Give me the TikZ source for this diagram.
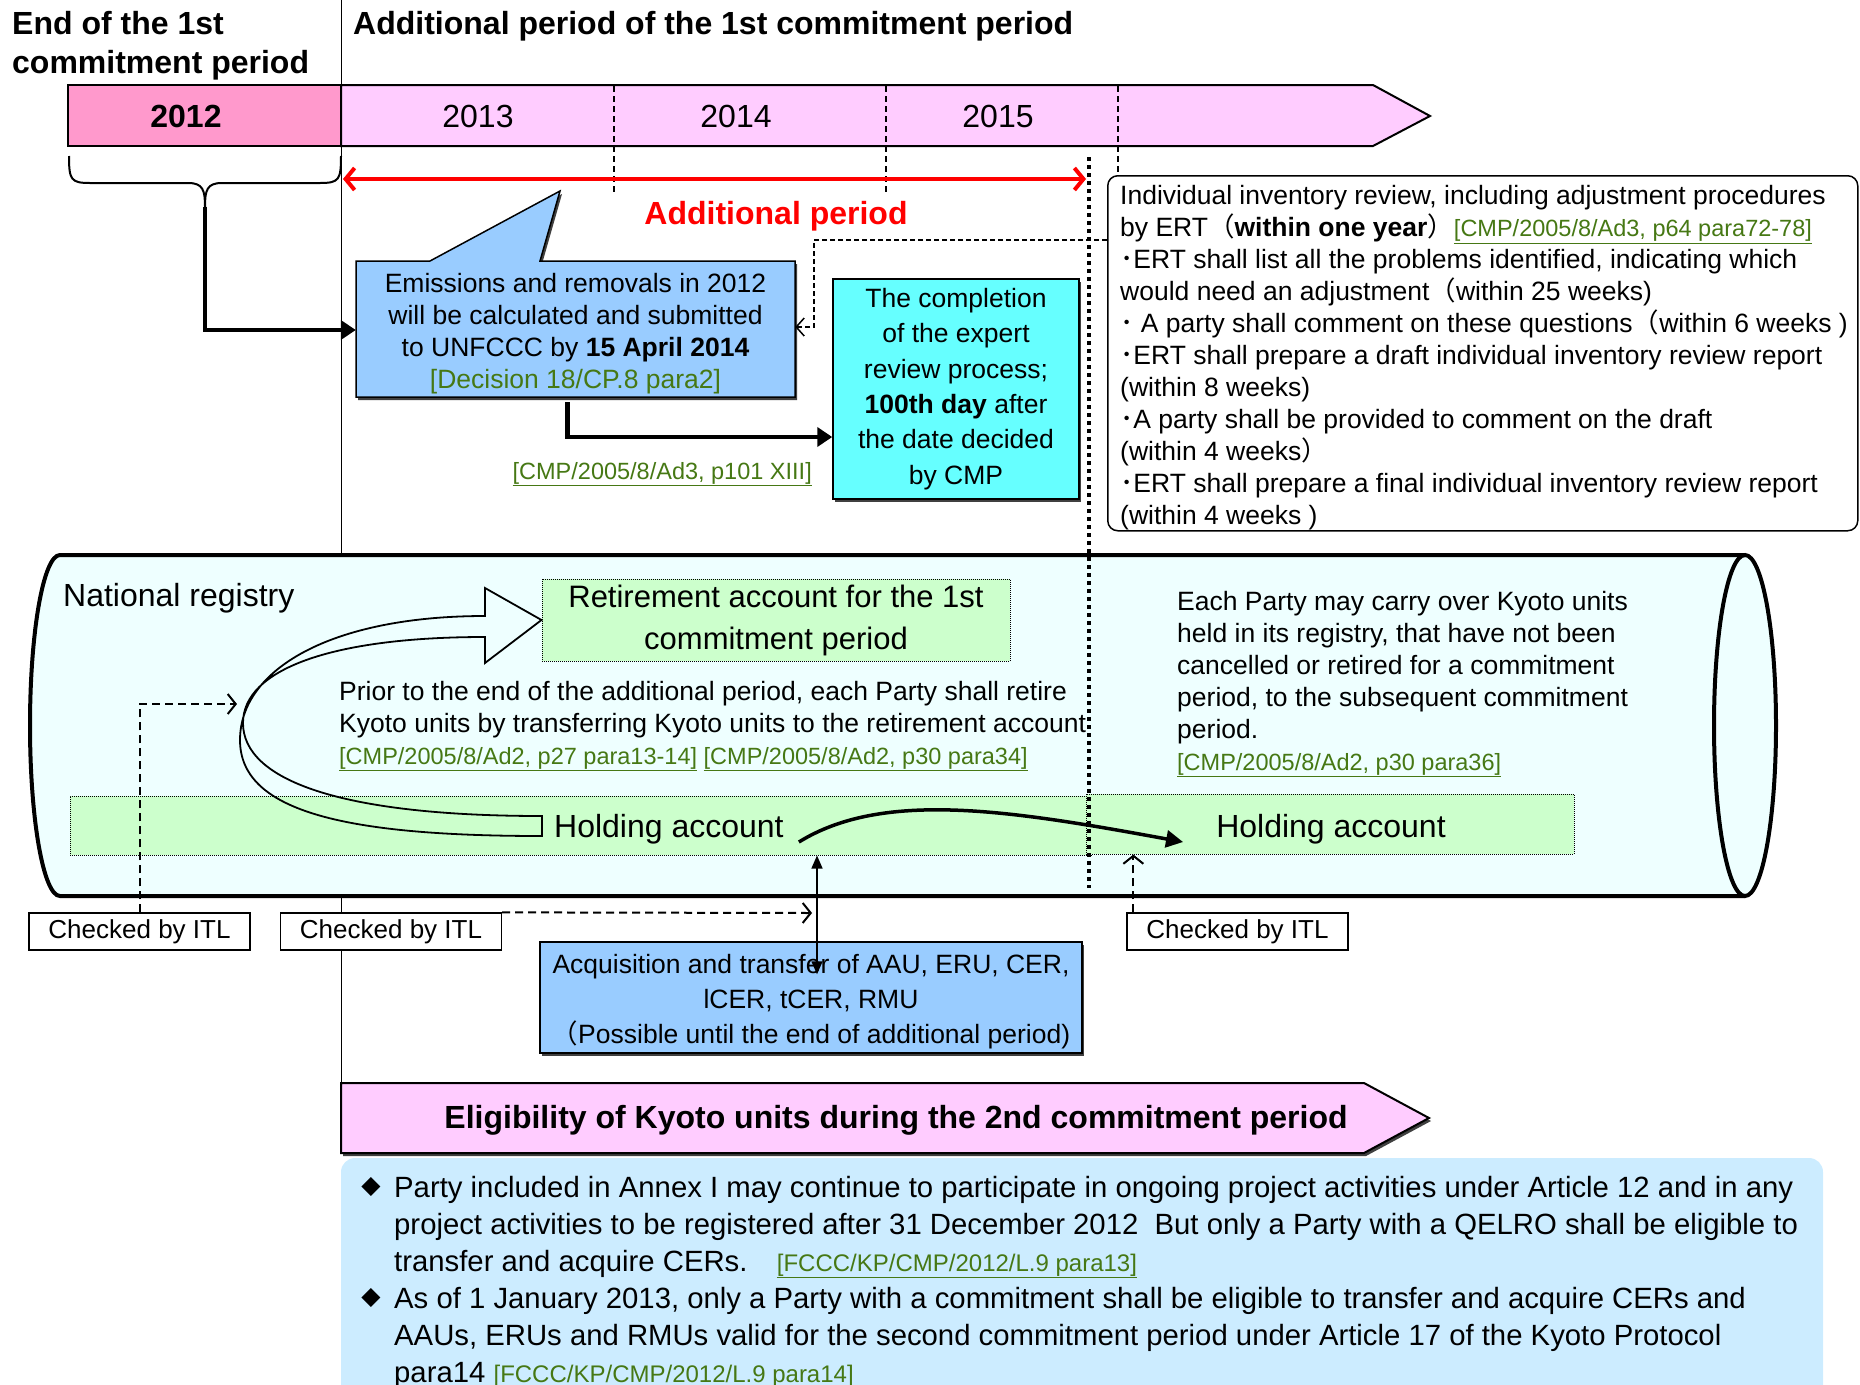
\documentclass[tikz,border=0pt]{standalone}
\usepackage{fontspec}
\setmainfont{Liberation Sans}
\newfontfamily\cjkfont{Noto Sans CJK JP}
\newfontfamily\dvfont{DejaVu Sans}
\usetikzlibrary{arrows.meta,shadows}
\definecolor{pinkA}{HTML}{FF99CC}
\definecolor{pinkB}{HTML}{FFCCFF}
\definecolor{blueA}{HTML}{99CCFF}
\definecolor{cyanA}{HTML}{66FFFF}
\definecolor{cylfill}{HTML}{EEFFFF}
\definecolor{greenA}{HTML}{CCFFCC}
\definecolor{blueB}{HTML}{CCECFF}
\definecolor{refgreen}{HTML}{467814}
\newcommand\fsz[2]{\fontsize{#1}{#2}\selectfont}
\newcommand\lpar{{\cjkfont （}}
\newcommand\rpar{{\cjkfont ）}}
\newcommand\mdot{{\cjkfont ･}}
\newcommand\reftxt[1]{\textcolor{refgreen}{\underline{#1}}}
\begin{document}
\begin{tikzpicture}[x=1pt,y=-1pt,
  txt/.style={inner sep=0pt, font=\fsz{26.5}{32}},
  bigtxt/.style={inner sep=0pt, font=\fsz{32}{40}},
  boxline/.style={draw=black, line width=1.5pt},
  shadowed/.style={drop shadow={shadow xshift=2pt, shadow yshift=-3pt, fill=black!75, opacity=1}},
  thickarr/.style={line width=4.5pt, -{Triangle[length=15pt,width=19pt]}},
  openarr/.style={line width=2pt, dash pattern=on 8pt off 5pt, -{Straight Barb[length=8pt,width=20pt]}},
  acct/.style={draw, densely dotted, line width=1pt, fill=greenA, inner sep=0pt},
  itl/.style={draw, line width=1.3pt, fill=white, minimum width=221pt, minimum height=37pt, inner sep=0pt, font=\fsz{26}{30}},
  divider/.style={line width=1.5pt, dash pattern=on 6pt off 4pt}
]
\useasboundingbox (0,0) rectangle (1860,1384);
\clip (0,0) rectangle (1860,1384);

% vertical boundary line
\coordinate (vtop) at (341,0);
\coordinate (vbot) at (341,1083);
\draw[line width=1pt] (vtop) -- (vbot);

% timeline
\filldraw[fill=pinkB, line width=2pt] (341,85) -- (1373,85) -- (1430,116) -- (1373,146) -- (341,146) -- cycle;
\node[draw, line width=2pt, fill=pinkA, minimum width=273pt, minimum height=61pt, inner sep=0pt] (y2012) at (204.5,115.5) {};
\node[font=\bfseries\fsz{32}{36}] (y2012t) at (186,116) {2012};
\node[font=\fsz{32}{36}] (y2013) at (478,116) {2013};
\node[font=\fsz{32}{36}] (y2014) at (736,116) {2014};
\node[font=\fsz{32}{36}] (y2015) at (998,116) {2015};
\draw[divider] (614,86) -- (614,192);
\draw[divider] (886,86) -- (886,192);
\draw[divider] (1118,86) -- (1118,175);

% titles
\node[anchor=west, align=left, inner sep=0pt, font=\bfseries\fsz{32}{39}] (t1) at (12,46) {End of the 1st\\commitment period};
\node[anchor=west, inner sep=0pt, font=\bfseries\fsz{32}{39}] (t2) at (353,26) {Additional period of the 1st commitment period};

% brace
\coordinate (bracetip) at (205,207);
\draw[line width=2pt] (69,156) .. controls (69,180) and (71,183) .. (90,183) -- (188,183) .. controls (203,183) and (205,190) .. (bracetip);
\draw[line width=2pt] (bracetip) .. controls (205,190) and (207,183) .. (222,183) -- (320,183) .. controls (339,183) and (341,180) .. (341,156);

% red arrow
\coordinate (apL) at (343,179);
\coordinate (apR) at (1086,179);
\draw[red, line width=4pt, {Straight Barb[length=9pt,width=22pt]}-{Straight Barb[length=9pt,width=22pt]}] (apL) -- (apR);
\node[red, font=\bfseries\fsz{32}{36}] (addp) at (776,216) {Additional period};

% emissions callout
\filldraw[fill=blueA, line width=1.5pt, shadowed] (356,261) -- (430,261) -- (560,191) -- (540,261) -- (795,261) -- (795,397) -- (356,397) -- cycle;
\node[txt, align=center, minimum width=439pt, minimum height=136pt] (emis) at (575.5,334) {Emissions and removals in 2012\\will be calculated and submitted\\to UNFCCC by \textbf{15 April 2014}\\\textcolor{refgreen}{[Decision 18/CP.8 para2]}};

% completion box
\node[boxline, fill=cyanA, shadowed, minimum width=246pt, minimum height=220pt, align=center, inner sep=0pt, font=\fsz{26.5}{35.3}] (cmp) at (956,389) {The completion\\of the expert\\review process;\\\textbf{100th day} after\\the date decided\\by CMP};

\node[anchor=east, inner sep=0pt, font=\fsz{23.5}{28}] (ref101) at (812,474) {\reftxt{[CMP/2005/8/Ad3, p101 XIII]}};

% review box
\node[draw, rounded corners=10pt, line width=1.5pt, fill=white, minimum width=750pt, minimum height=355pt, anchor=north west, inner sep=0pt] (rev) at (1107,175) {};
\node[txt, anchor=west, align=left] (revtxt) at (1120,358) {Individual inventory review, including adjustment procedures\\
by ERT\lpar\textbf{within one year}\rpar{\fsz{23.5}{32}\reftxt{[CMP/2005/8/Ad3, p64 para72-78]}}\\
\mdot ERT shall list all the problems identified, indicating which\\
would need an adjustment\lpar within 25 weeks)\\
\mdot\ A party shall comment on these questions\lpar within 6 weeks~)\\
\mdot ERT shall prepare a draft individual inventory review report\\
(within 8 weeks)\\
\mdot A party shall be provided to comment on the draft\\
(within 4 weeks\rpar\\
\mdot ERT shall prepare a final individual inventory review report\\
(within 4 weeks~)};

% arrows in upper part
\coordinate (lvl437) at (0,437);
\coordinate (bendA) at (814,240);
\coordinate (lv240) at (0,240);
\draw[thickarr] (bracetip) |- ([yshift=4pt]emis.west);
\draw[line width=1.5pt, dash pattern=on 5pt off 3pt, -{Straight Barb[length=8pt,width=18pt]}] (rev.west |- lv240) -- (bendA) |- ([yshift=7pt]emis.east);
\draw[thickarr] ([xshift=-8pt]emis.south) |- (cmp.west |- lvl437);

% cylinder (national registry)
\fill[cylfill] (60,555) -- (1745,555) -- (1745,896) -- (60,896) .. controls (43.4,896) and (30,819) .. (30,725.5) .. controls (30,632) and (43.4,555) .. (60,555) -- cycle;
\filldraw[fill=cylfill, line width=4pt] (1745,725.5) ellipse [x radius=31pt, y radius=170.5pt];
\draw[line width=4pt] (1745,555) -- (60,555) .. controls (43.4,555) and (30,632) .. (30,725.5) .. controls (30,819) and (43.4,896) .. (60,896) -- (1745,896);

\node[bigtxt, anchor=west] (natreg) at (63,598) {National registry};
\node[acct, minimum width=468pt, minimum height=82pt, align=center, font=\fsz{31}{42}] (ret) at (776,620) {Retirement account for the 1st\\commitment period};
\node[txt, anchor=west, align=left] (prior) at (339,726) {Prior to the end of the additional period, each Party shall retire\\Kyoto units by transferring Kyoto units to the retirement account\\{\fsz{23.5}{32}\reftxt{[CMP/2005/8/Ad2, p27 para13-14]} \reftxt{[CMP/2005/8/Ad2, p30 para34]}}};
\node[txt, anchor=west, align=left] (carry) at (1177,684) {Each Party may carry over Kyoto units\\held in its registry, that have not been\\cancelled or retired for a commitment\\period, to the subsequent commitment\\period.\\{\fsz{23.5}{30}\reftxt{[CMP/2005/8/Ad2, p30 para36]}}};

\node[acct, minimum width=1021pt, minimum height=59pt] (holdL) at (580.5,825.5) {};
\node[acct, minimum width=488pt, minimum height=60pt] (holdR) at (1330,824) {};
\node[bigtxt, anchor=west] (h1) at (554,829) {Holding account};
\node[bigtxt] (h2) at (1331,829) {Holding account};

% curved hollow arrow to retirement account
\draw[line width=1.8pt, line join=miter] (542,816) .. controls (340,816) and (243,780) .. (243,723) .. controls (243,670) and (330,637) .. (485,637) -- (485,663) -- (ret.west) -- (485,588) -- (485,616) .. controls (330,616) and (240,670) .. (240,740) .. controls (240,810) and (340,836) .. (542,836) -- cycle;

% holding to holding
\draw[line width=3.5pt, -{Triangle[length=17pt,width=17pt]}] ([xshift=15pt,yshift=-13pt]h1.east) .. controls +(84,-52) and +(-174,-32) .. ([xshift=-33pt,yshift=-13pt]h2.west);

% dotted end-of-period line
\draw[line width=4pt, dash pattern=on 4pt off 4pt] (1089,157) -- (1089,888);

% ITL boxes
\node[itl] (itl1) at (139.5,931.5) {Checked by ITL};
\node[itl] (itl2) at (391,931.5) {Checked by ITL};
\node[itl] (itl3) at (1237.5,931.5) {Checked by ITL};

% acquisition box
\node[boxline, fill=blueA, shadowed, minimum width=542pt, minimum height=111pt, inner sep=0pt] (acq) at (811,997.5) {};
\node[align=center, inner sep=0pt, font=\fsz{26.5}{35}] (acqtxt) at (811,1002) {Acquisition and transfer of AAU, ERU, CER,\\lCER, tCER, RMU\\\lpar Possible until the end of additional period)};

\coordinate (acqtip) at ([xshift=6pt,yshift=-33pt]acq.north);
\draw[line width=1.5pt, {Triangle[length=13pt,width=11pt]}-{Triangle[length=13pt,width=11pt]}] (acqtip |- holdL.south) -- (acqtip);

\coordinate (c704) at (237,704);
\draw[openarr] (itl1.north) |- (c704);
\coordinate (itl2end) at (812,913);
\draw[openarr] (itl2.north east) -- (itl2end);
\coordinate (i3) at ([xshift=7pt]itl3.north west);
\draw[openarr] (i3) -- (i3 |- holdR.south);

% eligibility arrow
\filldraw[fill=pinkB, line width=2pt, shadowed] (341,1083) -- (1364,1083) -- (1429,1118) -- (1364,1153) -- (341,1153) -- cycle;
\node[font=\bfseries\fsz{32}{36}] (elig) at (896,1120) {Eligibility of Kyoto units during the 2nd commitment period};

% bottom box
\fill[blueB, rounded corners=14pt] (341,1158) rectangle (1823,1420);
\node[font=\dvfont\fsz{25}{28}, inner sep=0pt] (b1) at (371,1187) {◆};
\node[font=\dvfont\fsz{25}{28}, inner sep=0pt] (b2) at (371,1298) {◆};
\node[inner sep=0pt, font=\fsz{29.3}{37}, anchor=west, align=left] (p1) at (394,1227) {Party included in Annex I may continue to participate in ongoing project activities under Article 12 and in any\\project activities to be registered after 31 December 2012~ But only a Party with a QELRO shall be eligible to\\transfer and acquire CERs.\quad{\fsz{24}{37}\reftxt{[FCCC/KP/CMP/2012/L.9 para13]}}};
\node[inner sep=0pt, font=\fsz{29.3}{37}, anchor=west, align=left] (p2) at (394,1338) {As of 1 January 2013, only a Party with a commitment shall be eligible to transfer and acquire CERs and\\AAUs, ERUs and RMUs valid for the second commitment period under Article 17 of the Kyoto Protocol\\para14 {\fsz{24}{37}\reftxt{[FCCC/KP/CMP/2012/L.9 para14]}}};
\end{tikzpicture}
\end{document}
